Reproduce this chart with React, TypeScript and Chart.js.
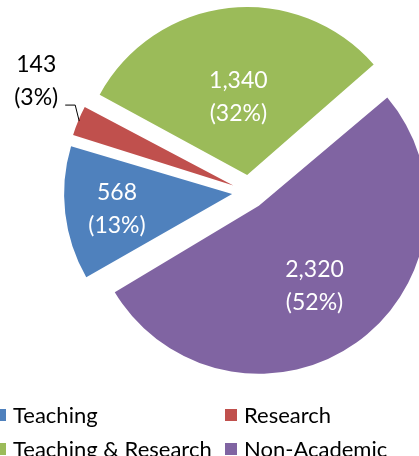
import React, { useEffect, useRef } from "react";
import { Chart, registerables } from "chart.js";

Chart.register(...registerables);

// ---- data ----
const categories = ["Teaching", "Research", "Teaching & Research", "Non-Academic"];
const values = [568, 143, 1340, 2320];
const valueLabels = ["568", "143", "1,340", "2,320"];
const percentLabels = ["(13%)", "(3%)", "(32%)", "(52%)"];

// ---- style ----
const colors = ["#4F81BD", "#C0504D", "#9BBB59", "#8064A2"];
const W = 419;
const H = 456;
const RADIUS = 168;
const EXPLODE = 17;
const ROTATION = 240;
const FONT_FAMILY = "Lato, 'Open Sans', sans-serif";
const LABEL_SIZE = 23;
const LEGEND_SIZE = 22;
const LINE_GAP = 33;
const TEXT_DY = 2;
const labelFactors = [0.69, 0, 0.48, 0.57];
const insideLabel = [true, false, true, true];

const radiusFix = {
  id: "radiusFix",
  afterDatasetsUpdate(chart: any) {
    const meta = chart.getDatasetMeta(0);
    const off = EXPLODE; // offset/4 internally
    meta.data.forEach((arc: any) => {
      const circ = arc.circumference;
      const fix = 1 - Math.sin(Math.min(Math.PI, circ || 0));
      arc.outerRadius = RADIUS - off * fix;
    });
  },
};

const sliceLabels = {
  id: "sliceLabels",
  afterDatasetsDraw(chart: any) {
    const ctx = chart.ctx;
    const meta = chart.getDatasetMeta(0);
    ctx.save();
    ctx.font = `${LABEL_SIZE}px ${FONT_FAMILY}`;
    ctx.textAlign = "center";
    ctx.textBaseline = "middle";
    meta.data.forEach((arc: any, i: number) => {
      const mid = (arc.startAngle + arc.endAngle) / 2;
      const cx = arc.x + Math.cos(mid) * EXPLODE;
      const cy = arc.y + Math.sin(mid) * EXPLODE;
      if (insideLabel[i]) {
        const r = RADIUS * labelFactors[i];
        const px = cx + Math.cos(mid) * r;
        const py = cy + Math.sin(mid) * r + TEXT_DY;
        ctx.fillStyle = "#ffffff";
        ctx.fillText(valueLabels[i], px, py - LINE_GAP / 2);
        ctx.fillText(percentLabels[i], px, py + LINE_GAP / 2);
      } else {
        const ex = cx + Math.cos(mid) * (RADIUS - 1);
        const ey = cy + Math.sin(mid) * (RADIUS - 1);
        ctx.strokeStyle = "#000000";
        ctx.lineWidth = 1;
        ctx.beginPath();
        ctx.moveTo(ex, ey);
        ctx.lineTo(ex - 4, ey - 16);
        ctx.lineTo(ex - 14, ey - 16);
        ctx.stroke();
        ctx.fillStyle = "#000000";
        const tx = ex - 43;
        const ty = ey - 42 + TEXT_DY;
        ctx.fillText(valueLabels[i], tx, ty - LINE_GAP / 2);
        ctx.fillText(percentLabels[i], tx, ty + LINE_GAP / 2);
      }
    });
    ctx.restore();
  },
};

const legendCols = [-6, 225];
const legendRows = [415, 449];
const customLegend = {
  id: "customLegend",
  afterDraw(chart: any) {
    const ctx = chart.ctx;
    ctx.save();
    ctx.font = `${LEGEND_SIZE}px ${FONT_FAMILY}`;
    ctx.textAlign = "left";
    ctx.textBaseline = "middle";
    categories.forEach((name, i) => {
      const x = legendCols[i % 2];
      const y = legendRows[Math.floor(i / 2)];
      ctx.fillStyle = colors[i];
      ctx.fillRect(x, y - 6, 12, 12);
      ctx.fillStyle = "#000000";
      ctx.fillText(name, x + 19, y + 1);
    });
    ctx.restore();
  },
};

export default function App() {
  const ref = useRef<HTMLCanvasElement>(null);
  useEffect(() => {
    if (!ref.current) return;
    const chart = new Chart(ref.current, {
      type: "pie",
      data: {
        labels: categories,
        datasets: [
          {
            data: values,
            backgroundColor: colors,
            borderWidth: 0,
            offset: EXPLODE * 4,
            hoverOffset: EXPLODE * 4,
          },
        ],
      },
      options: {
        responsive: false,
        animation: false,
        rotation: ROTATION,
        radius: RADIUS,
        layout: { padding: { left: 79, right: 0, top: 0, bottom: 72 } },
        plugins: {
          legend: { display: false },
          tooltip: { enabled: false },
        },
        events: [],
      } as any,
      plugins: [radiusFix, sliceLabels, customLegend],
    });
    return () => chart.destroy();
  }, []);
  return (
    <div style={{ position: "fixed", left: 0, top: 0, width: W, height: H, overflow: "hidden", background: "#fff" }}>
      <canvas ref={ref} width={W} height={H} style={{ display: "block", width: W, height: H }} />
    </div>
  );
}
